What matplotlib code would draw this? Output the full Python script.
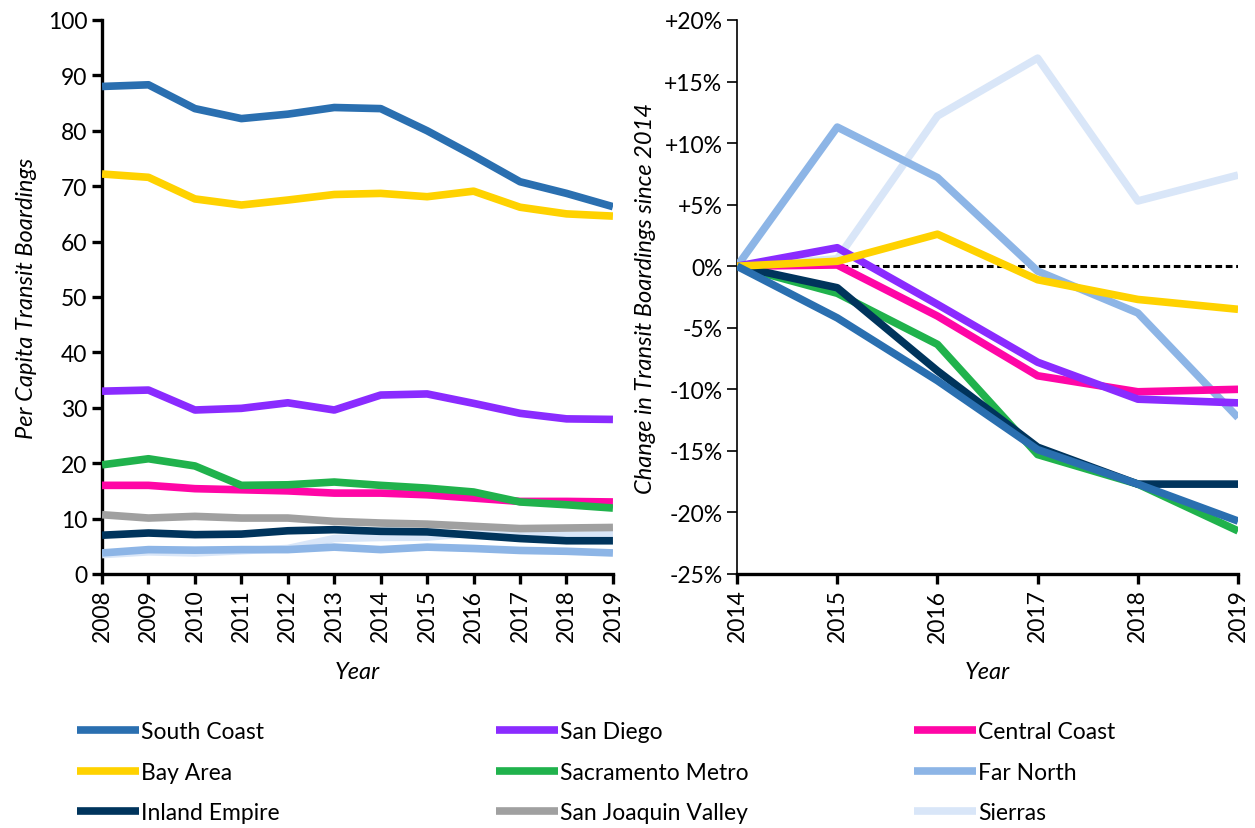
import matplotlib
matplotlib.use('Agg')
from matplotlib import pyplot as plt
from matplotlib import ticker

plt.rcParams['font.family'] = ['Lato', 'DejaVu Sans']

# series order as in the source workbook
regions = ['South Coast', 'Bay Area', 'Inland Empire',
           'San Diego', 'Sacramento Metro', 'San Joaquin Valley',
           'Central Coast', 'Far North', 'Sierras']

colors = ['#2A6FB0', '#FFD200', '#00345C',
          '#8A2BFF', '#20B24C', '#A0A0A0',
          '#FF06A6', '#8DB5E6', '#D9E6F8']

years_left = list(range(2008, 2020))
years_right = list(range(2014, 2020))

# per capita transit boardings, 2008-2019
per_capita = {
    'South Coast':        [88.0, 88.3, 84.0, 82.2, 83.0, 84.2, 84.0, 80.0, 75.5, 70.8, 68.7, 66.3],
    'Bay Area':           [72.2, 71.6, 67.7, 66.6, 67.5, 68.5, 68.7, 68.1, 69.1, 66.2, 65.0, 64.6],
    'Inland Empire':      [7.0, 7.4, 7.1, 7.2, 7.8, 8.0, 7.7, 7.6, 7.0, 6.4, 6.0, 6.0],
    'San Diego':          [33.0, 33.2, 29.6, 29.9, 30.9, 29.6, 32.3, 32.5, 30.8, 29.0, 28.0, 27.9],
    'Sacramento Metro':   [19.7, 20.8, 19.5, 16.0, 16.1, 16.6, 16.0, 15.5, 14.8, 13.0, 12.5, 11.9],
    'San Joaquin Valley': [10.7, 10.1, 10.4, 10.1, 10.1, 9.5, 9.2, 9.0, 8.6, 8.2, 8.3, 8.4],
    'Central Coast':      [16.0, 16.0, 15.4, 15.2, 15.0, 14.6, 14.6, 14.3, 13.7, 13.1, 13.1, 13.0],
    'Far North':          [3.8, 4.4, 4.3, 4.4, 4.4, 4.85, 4.4, 4.85, 4.6, 4.25, 4.1, 3.8],
    'Sierras':            [3.5, 4.0, 3.8, 4.2, 4.6, 6.4, 6.6, 6.65, 7.4, 7.7, 6.95, 7.1],
}

# change in transit boardings since 2014 (%)
change = {
    'South Coast':        [0, -4.2, -9.3, -14.9, -17.7, -20.7],
    'Bay Area':           [0, 0.4, 2.6, -1.1, -2.7, -3.5],
    'Inland Empire':      [0, -1.75, -8.5, -14.7, -17.7, -17.7],
    'San Diego':          [0, 1.5, -3.1, -7.8, -10.8, -11.1],
    'Sacramento Metro':   [0, -2.2, -6.35, -15.3, -17.7, -21.5],
    'San Joaquin Valley': [0, 0, 0, 0, 0, 0],
    'Central Coast':      [0, 0.1, -4.05, -8.9, -10.2, -10.0],
    'Far North':          [0, 11.3, 7.2, -0.4, -3.8, -12.3],
    'Sierras':            [0, 0.6, 12.2, 16.9, 5.3, 7.4],
}

font_size = 16.5
label_size = 17
lw = 5.5

fig = plt.figure(figsize=(12.55, 8.29), dpi=100)
ax1 = fig.add_axes([0.0813, 0.3064, 0.4071, 0.6683])
ax2 = fig.add_axes([0.5873, 0.3064, 0.3992, 0.6683])

handles = []
n = len(regions)
for k, name in enumerate(regions):
    z = 10 + (n - k)
    h, = ax1.plot(years_left, per_capita[name], c=colors[k], lw=lw,
                  solid_capstyle='butt', zorder=z, label=name)
    handles.append(h)
    if name != 'San Joaquin Valley':
        ax2.plot(years_right, change[name], c=colors[k], lw=lw,
                 solid_capstyle='butt', zorder=z)

ax2.plot([years_right[0], years_right[-1]], [0, 0], c='black', lw=2.2,
         linestyle=(0, (2.2, 1.2)), zorder=5)

# left panel
ax1.set_xlim(2008, 2019)
ax1.set_ylim(0, 100)
ax1.set_xticks(years_left)
ax1.set_xticklabels([str(y) for y in years_left], rotation=90)
ax1.set_yticks(range(0, 101, 10))
ax1.set_ylabel('Per Capita Transit Boardings', fontsize=label_size,
               style='italic', labelpad=8)
ax1.set_xlabel('Year', fontsize=label_size, style='italic', labelpad=14)
for s in ['top', 'right']:
    ax1.spines[s].set_visible(False)
for s in ['left', 'bottom']:
    ax1.spines[s].set_linewidth(2.4)
ax1.tick_params(labelsize=font_size, width=2.4, length=7)

# right panel
ax2.set_xlim(2014, 2019)
ax2.set_ylim(-25, 20)
ax2.set_xticks(years_right)
ax2.set_xticklabels([str(y) for y in years_right], rotation=90)
ax2.set_yticks(range(-25, 21, 5))
ax2.yaxis.set_major_formatter(
    ticker.FuncFormatter(lambda v, p: '0%' if v == 0 else ('%+d%%' % v)))
ax2.set_ylabel('Change in Transit Boardings since 2014', fontsize=label_size,
               style='italic', labelpad=6)
ax2.set_xlabel('Year', fontsize=label_size, style='italic', labelpad=14)
for s in ['top', 'right']:
    ax2.spines[s].set_visible(False)
ax2.spines['left'].set_linewidth(1.2)
ax2.spines['bottom'].set_linewidth(2.4)
ax2.tick_params(axis='y', labelsize=font_size, width=1.2, length=7)
ax2.tick_params(axis='x', labelsize=font_size, width=2.4, length=7)

# legend: three columns
col_x = [0.054, 0.388, 0.721]
for c in range(3):
    hs = handles[c * 3:(c + 1) * 3]
    fig.legend(handles=hs, labels=[h.get_label() for h in hs],
               loc='upper left', bbox_to_anchor=(col_x[c], 0.14),
               frameon=False, fontsize=font_size, handlelength=2.7,
               handletextpad=0.1, labelspacing=0.85, borderaxespad=0)

fig.savefig('out.png', dpi=100)
